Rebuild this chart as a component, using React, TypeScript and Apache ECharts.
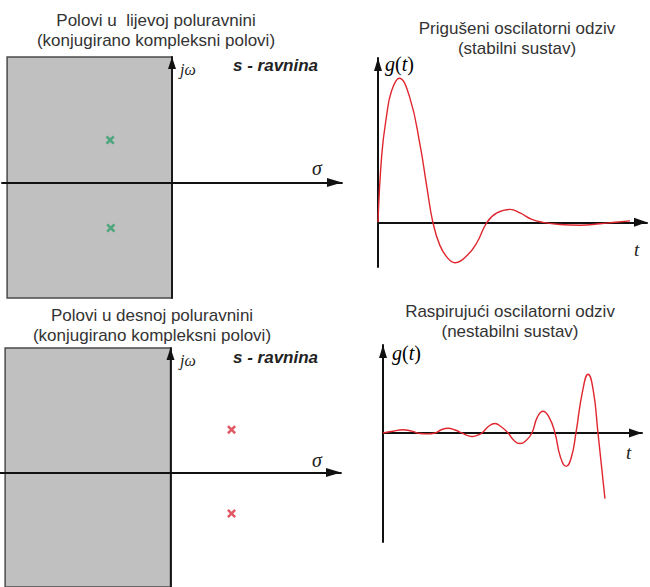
import React, { useEffect, useRef } from 'react';
import * as echarts from 'echarts';

// Damped (stable) response
const stableT = [0, 0.14, 0.32, 0.5, 0.79, 1.19, 1.56, 1.82, 2.04, 2.3, 2.6, 2.86, 3.31, 3.68, 4.05, 4.42, 4.91, 5.28, 5.72, 6.13, 6.77, 7.51, 8.25, 8.81, 9.37];
const stableG = [0, 0.47, 0.74, 0.91, 1.0, 0.86, 0.54, 0.24, 0, -0.16, -0.25, -0.28, -0.23, -0.14, 0, 0.065, 0.09, 0.065, 0.02, 0, -0.015, -0.02, -0.01, 0, 0.01];

// Growing (unstable) response
const unstableT = [0, 0.39, 0.77, 1.12, 1.43, 1.7, 2.01, 2.25, 2.51, 2.78, 3.05, 3.25, 3.44, 3.63, 3.82, 4.07, 4.32, 4.55, 4.83, 5.06, 5.29, 5.52, 5.75, 5.96, 6.18, 6.41, 6.64, 6.85, 7.07, 7.27, 7.45, 7.7, 7.92, 8.12, 8.3, 8.57];
const unstableG = [0, 0.03, 0.055, 0.03, -0.01, -0.015, 0, 0.055, 0.08, 0.05, 0, -0.04, -0.06, -0.04, 0, 0.11, 0.16, 0.11, 0, -0.13, -0.18, -0.13, 0, 0.27, 0.37, 0.27, 0, -0.41, -0.57, -0.42, 0, 0.7, 1.0, 0.72, 0, -1.12];

// Poles
const leftSigma = [-1.82, -1.8];
const leftOmega = [1.69, -1.81];
const rightSigma = [1.79, 1.79];
const rightOmega = [1.72, -1.65];

const titleTexts = [
  'Polovi u  lijevoj poluravnini\n(konjugirano kompleksni polovi)',
  'Prigušeni oscilatorni odziv\n(stabilni sustav)',
  'Polovi u desnoj poluravnini\n(konjugirano kompleksni polovi)',
  'Raspirujući oscilatorni odziv\n(nestabilni sustav)',
];

const X_PATH = 'path://M0,2 L2,0 L5,3 L8,0 L10,2 L7,5 L10,8 L8,10 L5,7 L2,10 L0,8 L3,5 Z';

function axisLine(size: number[], width: number) {
  return {
    show: true,
    onZero: true,
    symbol: ['none', 'triangle'],
    symbolSize: size,
    symbolOffset: [0, -size[1] / 2],
    lineStyle: { color: '#111', width },
  };
}

function valueAxis(gridIndex: number, min: number, max: number, size: number[], width: number) {
  return {
    type: 'value',
    gridIndex,
    min,
    max,
    z: 3,
    axisLine: axisLine(size, width),
    axisTick: { show: false },
    axisLabel: { show: false },
    splitLine: { show: false },
  };
}

const serif = '"Liberation Serif", "DejaVu Serif", serif';
const sans = '"Liberation Sans", Arial, sans-serif';

export default function App() {
  const ref = useRef<HTMLDivElement>(null);
  useEffect(() => {
    if (!ref.current) return;
    const chart = echarts.init(ref.current, null, { renderer: 'svg' });
    const titlePos = [
      { left: 156, top: 10 },
      { left: 517, top: 18 },
      { left: 152, top: 305 },
      { left: 510, top: 301 },
    ];
    const gtRich = {
      a: { fontStyle: 'italic', fontFamily: serif, fontSize: 20, color: '#222' },
      b: { fontStyle: 'normal', fontFamily: serif, fontSize: 20, color: '#222' },
    };
    const textEl = (x: number, y: number, text: string, font: string) => ({
      type: 'text',
      x,
      y,
      style: { text, font, fill: '#222', verticalAlign: 'middle', align: 'left' },
    });
    const option: any = {
      animation: false,
      backgroundColor: '#fff',
      title: titleTexts.map((t, i) => ({
        text: t,
        left: titlePos[i].left,
        top: titlePos[i].top,
        padding: 0,
        textAlign: 'center',
        textStyle: { fontSize: 17, lineHeight: 20, fontWeight: 'normal', color: '#333', fontFamily: sans },
      })),
      grid: [
        { left: 2, top: 57, width: 340, height: 241 },
        { left: 378, top: 58, width: 269, height: 209 },
        { left: 0, top: 348, width: 341, height: 240 },
        { left: 383, top: 345, width: 259, height: 197 },
      ],
      xAxis: [
        valueAxis(0, -5, 5, [9, 15], 1.8),
        valueAxis(1, 0, 10, [9, 13], 2),
        valueAxis(2, -5, 5, [9, 15], 1.8),
        valueAxis(3, 0, 10, [9, 13], 2),
      ],
      yAxis: [
        valueAxis(0, -4.6, 5, [8, 12], 1.8),
        valueAxis(1, -0.31, 1.14, [8, 13], 2),
        valueAxis(2, -4.6, 5, [8, 12], 1.8),
        valueAxis(3, -1.86, 1.5, [8, 13], 2),
      ],
      series: [
        {
          type: 'scatter',
          xAxisIndex: 0,
          yAxisIndex: 0,
          symbol: X_PATH,
          symbolSize: 9,
          z: 4,
          itemStyle: { color: '#2f9f6c' },
          data: leftSigma.map((s, i) => [s, leftOmega[i]]),
          markArea: {
            silent: true,
            itemStyle: { color: '#c0c0c0', borderColor: '#4a4a4a', borderWidth: 1.5, opacity: 1 },
            data: [[{ coord: [-4.85, 5] }, { coord: [0, -4.6] }]],
          },
        },
        {
          type: 'line',
          xAxisIndex: 1,
          yAxisIndex: 1,
          showSymbol: false,
          smooth: 0.45,
          z: 4,
          lineStyle: { color: '#e0262e', width: 1.4 },
          data: stableT.map((t, i) => [t, stableG[i]]),
        },
        {
          type: 'scatter',
          xAxisIndex: 2,
          yAxisIndex: 2,
          symbol: X_PATH,
          symbolSize: 9,
          z: 4,
          itemStyle: { color: '#d8303e' },
          data: rightSigma.map((s, i) => [s, rightOmega[i]]),
          markArea: {
            silent: true,
            itemStyle: { color: '#c0c0c0', borderColor: '#4a4a4a', borderWidth: 1.5, opacity: 1 },
            data: [[{ coord: [-4.85, 5] }, { coord: [0, -4.6] }]],
          },
        },
        {
          type: 'line',
          xAxisIndex: 3,
          yAxisIndex: 3,
          showSymbol: false,
          smooth: 0.5,
          z: 4,
          lineStyle: { color: '#e0262e', width: 1.4 },
          data: unstableT.map((t, i) => [t, unstableG[i]]),
        },
      ],
      graphic: [
        textEl(180, 69, 'jω', `italic 16px ${serif}`),
        textEl(233, 65, 's - ravnina', `italic bold 17px ${sans}`),
        textEl(312, 168, 'σ', `italic 20px ${serif}`),
        textEl(180, 360, 'jω', `italic 16px ${serif}`),
        textEl(233, 357, 's - ravnina', `italic bold 17px ${sans}`),
        textEl(312, 460, 'σ', `italic 20px ${serif}`),
        {
          type: 'text',
          x: 385,
          y: 64,
          style: { text: '{a|g}{b|(}{a|t}{b|)}', rich: gtRich, verticalAlign: 'middle', align: 'left' },
        },
        {
          type: 'text',
          x: 392,
          y: 353,
          style: { text: '{a|g}{b|(}{a|t}{b|)}', rich: gtRich, verticalAlign: 'middle', align: 'left' },
        },
        textEl(634, 249, 't', `italic 19px ${serif}`),
        textEl(626, 452, 't', `italic 19px ${serif}`),
      ],
    };
    chart.setOption(option);
    return () => chart.dispose();
  }, []);
  return (
    <div
      ref={ref}
      style={{ position: 'fixed', left: 0, top: 0, width: 650, height: 587, background: '#fff' }}
    />
  );
}
